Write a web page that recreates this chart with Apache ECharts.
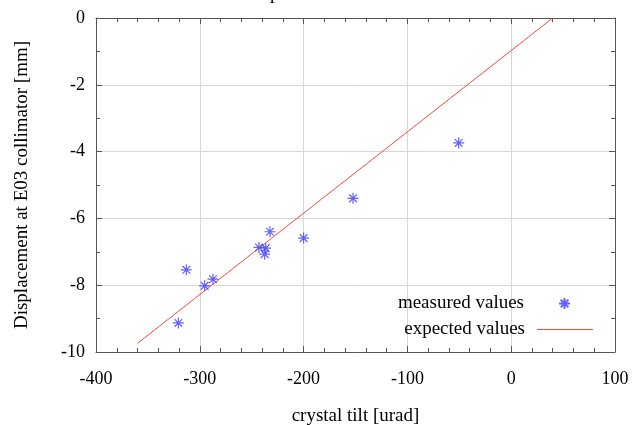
<!DOCTYPE html>
<html>
<head>
<meta charset="utf-8">
<script src="https://cdn.jsdelivr.net/npm/echarts@6/dist/echarts.min.js"></script>
<style>
html,body{margin:0;padding:0;background:#fff;}
#chart{width:638px;height:425px;}
</style>
</head>
<body>
<div id="chart"></div>
<script>
// Measured points: crystal tilt [urad], displacement [mm]
const measuredTilt = [-320.7, -313, -295.3, -287.3, -243, -236.5, -237.5, -232.4, -200, -152.4, -50.6];
const measuredDisp = [-9.13, -7.54, -8.02, -7.82, -6.87, -6.89, -7.07, -6.40, -6.59, -5.40, -3.74];
// Expected line endpoints
const expectedTilt = [-360, 40];
const expectedDisp = [-9.74, 0];
const xTicks = {min: -400, max: 100, interval: 100};
const yTicks = {min: -10, max: 0, interval: 2};
const seriesNames = ['measured values', 'expected values'];

const FONT = 'Liberation Serif';
const axisColor = '#555';
const starPath = 'path://M0,5L10,5M5,0L5,10M1.5,1.5L8.5,8.5M8.5,1.5L1.5,8.5';
const lineColor = '#f44a3a';

const chart = echarts.init(document.getElementById('chart'), null, {renderer: 'canvas'});

function xAx(pos, primary) {
  return {
    type: 'value', position: pos, min: xTicks.min, max: xTicks.max, interval: xTicks.interval,
    name: primary ? 'crystal tilt [urad]' : '', nameLocation: 'middle', nameGap: 55,
    nameTextStyle: {fontFamily: FONT, fontSize: 19, color: '#000'},
    axisLine: {show: true, onZero: false, lineStyle: {color: axisColor, width: 1}},
    axisTick: {show: true, inside: true, length: 6, lineStyle: {color: axisColor}},
    minorTick: {show: true, splitNumber: 5, length: 4, lineStyle: {color: axisColor}},
    axisLabel: {show: primary, fontFamily: FONT, fontSize: 18, color: '#000', margin: 18},
    splitLine: {show: primary, lineStyle: {color: '#d6d6d6', width: 1}},
    minorSplitLine: {show: false}
  };
}
function yAx(pos, primary) {
  return {
    type: 'value', position: pos, min: yTicks.min, max: yTicks.max, interval: yTicks.interval,
    name: primary ? 'Displacement at E03 collimator [mm]' : '', nameLocation: 'middle', nameGap: 64,
    nameTextStyle: {fontFamily: FONT, fontSize: 19, color: '#000'},
    axisLine: {show: true, onZero: false, lineStyle: {color: axisColor, width: 1}},
    axisTick: {show: true, inside: true, length: 6, lineStyle: {color: axisColor}},
    minorTick: {show: true, splitNumber: 2, length: 4, lineStyle: {color: axisColor}},
    axisLabel: {show: primary, fontFamily: FONT, fontSize: 18, color: '#000', margin: 11},
    splitLine: {show: primary, lineStyle: {color: '#d6d6d6', width: 1}},
    minorSplitLine: {show: false}
  };
}

const option = {
  animation: false,
  backgroundColor: '#fff',
  grid: {left: 96, right: 23, top: 18, bottom: 73, containLabel: false, outerBoundsMode: 'none'},
  xAxis: [xAx('bottom', true), xAx('top', false)],
  yAxis: [yAx('left', true), yAx('right', false)],
  graphic: [{
    type: 'text', left: 270, top: -15, silent: true,
    style: {text: 'p', font: '19px "Liberation Serif"', fill: '#000'}
  }],
  legend: [
    {
      data: [{name: seriesNames[0], icon: starPath}],
      orient: 'vertical', align: 'right', right: 62, top: 289,
      itemWidth: 11, itemHeight: 11,
      textStyle: {fontFamily: FONT, fontSize: 19, color: '#000', padding: [0, 30, 0, 0]},
      selectedMode: false
    },
    {
      data: [{name: seriesNames[1], icon: 'rect', itemStyle: {color: lineColor}}],
      orient: 'vertical', align: 'right', right: 40, top: 315,
      itemWidth: 56, itemHeight: 1,
      textStyle: {fontFamily: FONT, fontSize: 19, color: '#000', padding: [0, 7, 0, 0]},
      selectedMode: false
    }
  ],
  series: [
    {
      name: seriesNames[0], type: 'scatter',
      xAxisIndex: 0, yAxisIndex: 0,
      symbol: starPath, symbolSize: 11,
      itemStyle: {color: 'rgba(0,0,0,0)', borderColor: '#3b3bff', borderWidth: 1.2},
      data: measuredTilt.map((x, i) => [x, measuredDisp[i]]),
      z: 3
    },
    {
      name: seriesNames[1], type: 'line',
      xAxisIndex: 0, yAxisIndex: 0,
      symbol: 'none', showSymbol: false,
      lineStyle: {color: lineColor, width: 1},
      itemStyle: {color: lineColor},
      data: expectedTilt.map((x, i) => [x, expectedDisp[i]]),
      z: 2
    }
  ]
};
chart.setOption(option);
</script>
</body>
</html>
